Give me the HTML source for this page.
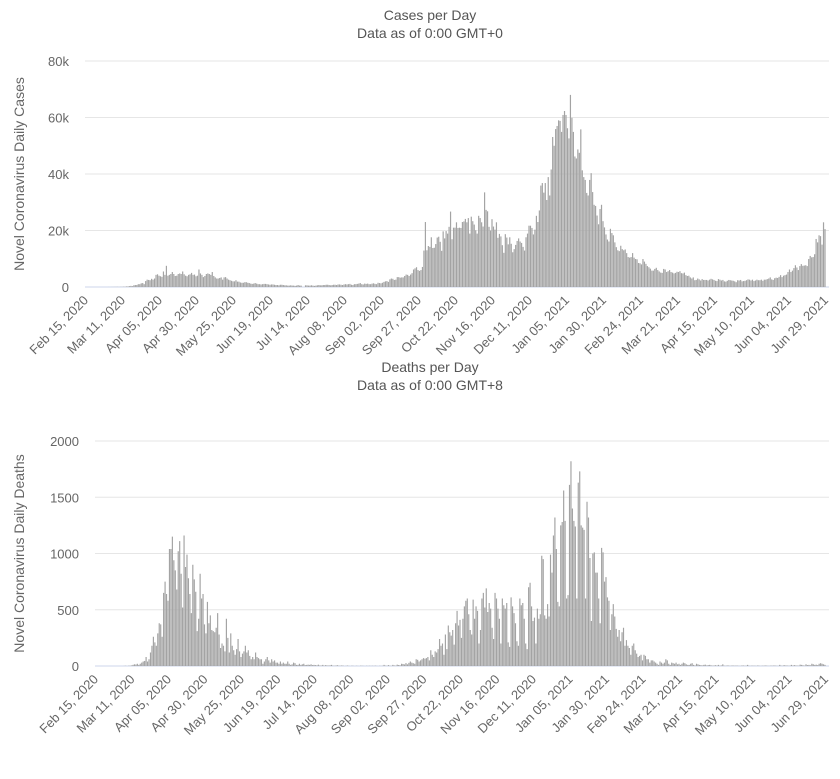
<!DOCTYPE html>
<html><head><meta charset="utf-8"><style>
body{margin:0;background:#fff;}
svg{display:block;font-family:"Liberation Sans",sans-serif;}
</style></head><body>
<svg id="c" width="840" height="779"></svg>
<script>
const tickLabels=["Feb 15, 2020","Mar 11, 2020","Apr 05, 2020","Apr 30, 2020","May 25, 2020","Jun 19, 2020","Jul 14, 2020","Aug 08, 2020","Sep 02, 2020","Sep 27, 2020","Oct 22, 2020","Nov 16, 2020","Dec 11, 2020","Jan 05, 2021","Jan 30, 2021","Feb 24, 2021","Mar 21, 2021","Apr 15, 2021","May 10, 2021","Jun 04, 2021","Jun 29, 2021"];
const casesTicks=[0,20000,40000,60000,80000];
const casesTickLabels=["0","20k","40k","60k","80k"];
const deathsTicks=[0,500,1000,1500,2000];
const deathsTickLabels=["0","500","1000","1500","2000"];
const casesK=[0,0,0,0,0,0,0,0,0,0,
0,0,0,0,0,0,0.01,0.01,0.02,0.03,
0.03,0.05,0.05,0.03,0.05,0.07,0.1,0.1,0.2,0.2,
0.3,0.4,0.3,0.6,0.7,0.7,1.0,1.0,1.3,1.4,
1.0,2.1,2.6,2.5,2.4,2.9,2.6,3.0,4.3,4.5,
4.0,3.8,3.6,5.5,4.3,7.5,4.0,4.3,4.6,5.3,
4.6,3.9,4.0,4.6,4.8,4.6,5.5,4.5,4.0,3.8,
4.3,4.5,5.0,4.3,4.4,3.8,4.0,6.2,4.8,4.3,
3.5,3.9,4.6,4.8,4.6,4.3,5.3,3.9,3.4,3.0,
3.0,3.2,3.4,2.6,3.4,3.5,3.0,2.6,2.4,2.2,
2.0,2.0,2.4,1.9,1.9,1.6,1.5,1.5,1.7,1.7,
1.5,1.4,1.2,1.1,1.2,1.4,1.2,1.0,1.0,0.9,
1.0,1.1,1.1,1.0,0.9,0.8,0.9,0.9,0.8,0.7,
0.7,0.6,0.8,0.8,0.7,0.6,0.6,0.5,0.5,0.6,
0.5,0.5,0.4,0.5,0.7,0.5,0.5,0,0,0.6,
0.6,0.5,0.5,0.6,0.5,0.4,0.5,0.6,0.7,0.6,
0.6,0.7,0.7,0.8,0.8,0.7,0.6,0.7,0.8,0.8,
0.7,0.9,0.9,0.8,0.7,0.9,1.0,0.9,1.0,1.1,
0.8,0.7,1.0,1.0,1.1,1.2,1.4,1.0,0.9,1.2,
1.1,1.2,1.0,1.0,1.2,1.3,1.1,1.0,1.5,1.4,
1.3,1.5,1.8,2.0,2.1,1.8,2.7,3.0,2.9,2.5,
2.6,3.5,3.5,3.3,3.4,3.4,3.9,4.4,4.3,3.9,
4.4,4.9,6.2,6.6,7.0,6.0,5.7,6.0,7.1,12.9,
23.0,13.0,14.5,14.2,17.6,13.8,13.9,15.2,17.5,17.8,
16.0,12.8,19.7,17.2,19.8,18.9,21.3,26.7,16.9,21.0,
21.0,22.9,20.9,21.0,20.9,23.0,23.2,24.1,22.9,24.4,
18.9,24.9,23.3,22.1,20.1,18.9,25.2,24.4,22.9,21.4,
33.5,27.3,26.8,21.3,20.0,24.0,21.4,20.3,22.9,17.4,
18.8,17.9,14.8,12.1,18.7,17.5,15.1,17.6,15.3,12.3,
13.4,14.9,16.3,17.2,16.1,15.6,14.2,12.9,17.6,18.9,
21.7,21.7,20.9,18.6,20.3,25.2,23.0,27.1,35.9,36.8,
33.4,36.8,30.8,38.9,32.4,41.6,53.1,50.0,55.9,57.0,
59.0,58.8,54.9,60.9,62.3,60.9,56.2,52.6,68.0,59.9,
54.9,46.2,45.5,48.7,47.5,55.8,41.3,38.9,37.9,33.3,
32.4,37.9,40.3,33.6,29.1,28.7,25.3,22.2,27.6,29.1,
23.3,21.1,18.6,16.8,16.1,20.6,19.1,18.3,15.8,14.1,
13.0,12.7,14.6,13.4,13.0,13.3,12.0,10.6,10.4,10.6,
12.0,10.4,9.9,9.8,8.5,8.4,8.0,9.9,9.0,8.2,
7.4,7.0,6.5,5.8,5.8,6.4,6.8,6.0,5.5,5.1,
5.0,6.4,6.2,5.3,5.6,6.0,5.3,5.1,4.8,5.0,
5.4,5.3,5.6,4.9,4.8,5.1,4.2,3.9,4.0,3.4,
3.0,3.4,2.4,2.5,3.0,2.7,2.3,2.8,2.5,2.5,
2.5,2.3,2.6,2.9,2.7,2.5,2.2,2.1,2.8,2.6,
2.3,2.5,2.0,1.9,2.2,2.5,2.4,2.3,2.2,2.0,
1.7,2.4,2.3,2.5,2.0,2.1,2.2,2.4,2.7,2.6,
2.3,2.6,2.1,2.3,2.6,2.4,2.4,2.6,2.2,2.6,
2.6,2.8,3.0,3.4,2.7,2.5,3.1,3.3,3.2,3.6,
4.2,3.5,4.0,4.2,4.4,5.3,6.2,5.3,5.8,6.7,
7.7,6.9,6.0,7.4,8.1,7.5,7.6,7.7,7.4,9.9,
11.0,10.5,10.6,11.6,17.0,15.8,18.3,18.0,15.0,22.9,
20.5];
const deaths=[0,0,0,0,0,0,0,0,0,0,
0,0,0,0,0,0,0,0,0,0,
1,2,0,2,3,5,10,15,13,20,
10,20,30,40,45,80,40,60,120,180,
260,210,180,290,380,370,260,650,750,640,
580,1040,1040,1150,940,850,680,1020,1110,820,
520,1160,880,990,780,640,470,900,770,660,
310,420,820,600,640,370,290,570,380,450,
320,310,300,340,470,280,160,200,180,130,
420,250,120,290,180,140,100,150,240,130,
80,110,130,180,120,140,90,60,80,60,
120,80,70,60,60,20,40,60,80,50,
30,60,40,50,30,30,20,40,20,30,
20,20,40,20,10,15,30,25,10,10,
20,10,15,20,8,10,12,10,15,8,
10,8,6,12,5,4,10,3,8,5,
4,6,10,3,2,4,7,3,2,5,
3,0,2,4,1,0,3,1,0,2,
1,0,3,2,1,0,2,1,2,1,
2,1,3,1,0,2,1,2,10,3,
2,8,3,1,10,5,3,12,9,6,
20,18,14,26,15,28,40,30,25,20,
60,55,40,50,60,70,65,70,80,50,
140,100,80,130,120,150,240,180,200,100,
280,150,360,300,270,320,190,380,490,360,
410,250,420,530,580,600,460,320,280,590,
420,530,490,200,320,600,650,520,690,480,
560,510,340,240,650,600,510,420,200,600,
540,510,560,210,170,610,530,470,380,220,
180,600,540,560,420,200,150,700,740,530,
400,430,200,510,420,460,980,950,450,420,
550,440,990,830,1160,1320,1040,570,530,1250,
1280,1560,1290,600,630,1610,1820,1400,1290,1240,
600,1630,1730,1250,1230,1210,600,1460,1320,960,
400,1000,1010,830,830,600,380,1050,1010,750,
790,610,580,320,460,550,440,330,260,320,
220,300,340,180,230,180,160,100,180,200,
140,110,80,90,100,50,100,90,60,60,
30,50,50,40,30,20,10,40,30,20,
30,60,50,20,10,30,25,20,30,15,
20,10,20,30,25,15,10,10,20,25,
10,5,20,15,10,8,5,10,12,5,
8,10,6,3,5,7,4,10,3,5,
15,3,2,5,4,2,3,5,2,4,
3,2,1,4,5,2,3,10,2,1,
4,2,3,1,5,2,1,3,2,5,
3,2,1,4,2,5,3,2,1,10,
3,2,8,4,5,2,3,10,4,8,
5,4,3,12,10,6,3,15,8,10,
6,20,15,10,12,8,20,25,20,15,
10];

const NS="http://www.w3.org/2000/svg";
const svg=document.getElementById('c');
function mk(tag,attrs,parent,text){const e=document.createElementNS(NS,tag);for(const k in attrs)e.setAttribute(k,attrs[k]);if(text!==undefined)e.textContent=text;(parent||svg).appendChild(e);return e;}

function chart(o){
  const g=mk('g',{});
  
  
  const n=o.values.length;
  const xs=i=>o.x0+(o.x1-o.x0)*i/(n-1);
  const ys=v=>o.yb-(o.yb-o.yt)*v/o.ymax;
  const t1=mk('text',{x:430,y:o.ty,'text-anchor':'middle','font-size':14,fill:'#555'},g,o.title);
  
  
  const t2=mk('text',{x:430,y:o.ty+18,'text-anchor':'middle','font-size':14,fill:'#555'},g,o.sub);
  
  
  o.ticks.forEach((t,i)=>{
    const y=ys(t);
    const gl=mk('line',{x1:o.x0,x2:o.x1+4,y1:y,y2:y,stroke:i===0?'#ccd6eb':'#e6e6e6','stroke-width':1},g);
    
    
    const tl=mk('text',{x:o.x0-16,y:y+5,'text-anchor':'end','font-size':13,fill:'#666'},g,o.tickLabels[i]);
    
    
  });
  const yt=mk('text',{transform:`translate(24,${(o.yt+o.yb)/2}) rotate(-90)`,'text-anchor':'middle','font-size':14,fill:'#666'},g,o.ytitle);
  
  
  const bw=Math.max(0.8,(o.x1-o.x0)/(n-1)*0.8);
  o.values.forEach((v,i)=>{
    const val=v*o.scale;
    if(val<=0)return;
    const y=ys(val);
    const r=mk('rect',{x:xs(i)-bw/2,y:y,width:bw,height:o.yb-y,fill:'#a3a3a3'},g);
    
    
  });
  tickLabels.forEach((l,i)=>{
    const x=xs(i*25);
    const tl=mk('text',{transform:`translate(${x+4},${o.yb+14}) rotate(-45)`,'text-anchor':'end','font-size':13,fill:'#666'},g,l);
    
    
  });
}
chart({name:'cases-chart',values:casesK,scale:1000,x0:85,x1:825,yt:61,yb:287,ymax:80000,ticks:casesTicks,tickLabels:casesTickLabels,title:'Cases per Day',sub:'Data as of 0:00 GMT+0',ty:20,ytitle:'Novel Coronavirus Daily Cases'});
chart({name:'deaths-chart',values:deaths,scale:1,x0:95,x1:825,yt:441,yb:666,ymax:2000,ticks:deathsTicks,tickLabels:deathsTickLabels,title:'Deaths per Day',sub:'Data as of 0:00 GMT+8',ty:372,ytitle:'Novel Coronavirus Daily Deaths'});
</script>
</body></html>
